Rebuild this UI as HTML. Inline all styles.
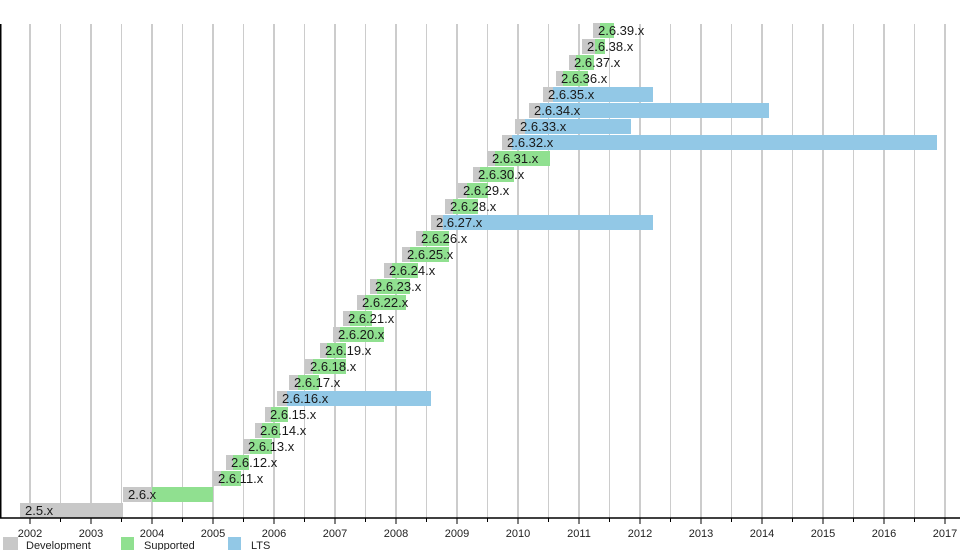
<!DOCTYPE html>
<html><head><meta charset="utf-8"><style>html,body{margin:0;padding:0;background:#fff}svg{display:block}text{font-family:"Liberation Sans",sans-serif}</style></head>
<body>
<svg width="960" height="550" xmlns="http://www.w3.org/2000/svg">
<rect width="960" height="550" fill="#fff"/>
<g id="grid"></g>
<g id="bars"></g>
<line x1="0" y1="518" x2="960" y2="518" stroke="#000" stroke-width="1.5"/>
<line x1="0.75" y1="24" x2="0.75" y2="518" stroke="#000" stroke-width="1.5"/>
<g id="ticks"></g>
<rect x="3" y="537" width="15" height="13" fill="#c8c8c8"/>
<text x="26" y="549" font-size="11" fill="#222">Development</text>
<rect x="121" y="537" width="13" height="13" fill="#90e090"/>
<text x="144" y="549" font-size="11" fill="#222">Supported</text>
<rect x="228" y="537" width="13" height="13" fill="#92c8e6"/>
<text x="251" y="549" font-size="11" fill="#222">LTS</text>
</svg>
<script>
const ns="http://www.w3.org/2000/svg";
function el(t,a,p,txt){const e=document.createElementNS(ns,t);for(const k in a)e.setAttribute(k,a[k]);if(txt)e.textContent=txt;document.getElementById(p).appendChild(e);return e;}
const X=y=>30+61*(y-2002);
for(let y=2002;y<=2017;y++){
 el("line",{x1:X(y),y1:24,x2:X(y),y2:518,stroke:"#999","stroke-width":1},"grid");
 el("line",{x1:X(y)+30.5,y1:24,x2:X(y)+30.5,y2:518,stroke:"#ccc","stroke-width":1},"grid");
 el("line",{x1:X(y),y1:518,x2:X(y),y2:524,stroke:"#000","stroke-width":1},"ticks");
 el("line",{x1:X(y)+30.5,y1:518,x2:X(y)+30.5,y2:522,stroke:"#000","stroke-width":1},"ticks");
 el("text",{x:X(y),y:537,"font-size":11,"text-anchor":"middle",fill:"#222"},"ticks",String(y));
}
const d=[
["2.5",20,123,123,0],["2.6",123,152,213,0],
["2.6.11",213,221,241,0],["2.6.12",226,233,249,0],["2.6.13",243,250,272,0],["2.6.14",255,262,280,0],
["2.6.15",265,271,288,0],["2.6.16",277,287,431,1],["2.6.17",289,298,319,0],["2.6.18",305,313,346,0],
["2.6.19",320,327,346,0],["2.6.20",333,340,384,0],["2.6.21",343,350,372,0],["2.6.22",357,365,406,0],
["2.6.23",370,377,410,0],["2.6.24",384,392,418,0],["2.6.25",402,410,449,0],["2.6.26",416,423,449,0],
["2.6.27",431,443,653,1],["2.6.28",445,453,478,0],["2.6.29",458,467,488,0],["2.6.30",473,480,514,0],
["2.6.31",487,495,550,0],["2.6.32",502,512,937,1],["2.6.33",515,525,631,1],["2.6.34",529,540,769,1],
["2.6.35",543,553,653,1],["2.6.36",556,563,588,0],["2.6.37",569,576,594,0],["2.6.38",582,595,605,0],
["2.6.39",593,600,614,0]];
d.forEach((r,i)=>{
 const top=503-16*i;
 el("rect",{x:r[1],y:top,width:r[2]-r[1],height:15,fill:"#c8c8c8"},"bars");
 if(r[3]>r[2])el("rect",{x:r[2],y:top,width:r[3]-r[2],height:15,fill:r[4]?"#92c8e6":"#90e090"},"bars");
 el("text",{x:r[1]+5,y:top+12,"font-size":13,fill:"#1a1a1a"},"bars",r[0]+".x");
});
</script>
</body></html>
